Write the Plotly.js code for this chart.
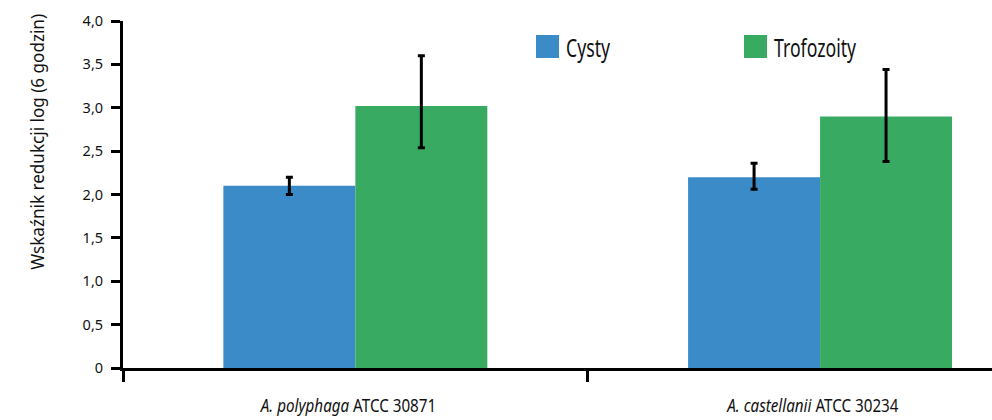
<!DOCTYPE html>
<html>
<head>
<meta charset="utf-8">
<script src="https://cdn.plot.ly/plotly-3.0.1.min.js"></script>
<style>
  html, body { margin: 0; padding: 0; background: #ffffff; }
  #chart { width: 992px; height: 420px; }
</style>
</head>
<body>
<div id="chart"></div>
<script>
// Strains on the x axis
const categories = ["<i>A. polyphaga</i> ATCC 30871", "<i>A. castellanii</i> ATCC 30234"];

// Series names
const seriesNames = ["Cysty", "Trofozoity"];

// Log reduction after 6 hours, with error bar extents
const cysty = [2.10, 2.20];
const cystyErrPlus = [0.10, 0.16];
const cystyErrMinus = [0.10, 0.14];

const trofozoity = [3.02, 2.90];
const trofozoityErrPlus = [0.58, 0.54];
const trofozoityErrMinus = [0.48, 0.52];

// Y axis ticks
const yTickVals = [0, 0.5, 1, 1.5, 2, 2.5, 3, 3.5, 4];
const yTickText = ["0", "0,5", "1,0", "1,5", "2,0", "2,5", "3,0", "3,5", "4,0"];

const yTitle = "Wskaźnik redukcji log (6 godzin)";

const colors = ["#3a8bc8", "#38aa62"];
const FONT = "'Noto Sans', 'Liberation Sans', sans-serif";
const INK = "#111111";

const W = 992, H = 420;
const M = { l: 123, r: 0, t: 21, b: 52 };
const plotW = W - M.l - M.r, plotH = H - M.t - M.b;
const px2x = px => (px - M.l) / plotW;
const px2y = py => (H - M.b - py) / plotH;

function errorBars(plus, minus) {
  return {
    type: "data", symmetric: false, array: plus, arrayminus: minus,
    color: "#000000", thickness: 3, width: 3.5
  };
}

const traces = [
  {
    type: "bar", name: seriesNames[0], x: categories, y: cysty,
    marker: { color: colors[0], line: { width: 0 } },
    error_y: errorBars(cystyErrPlus, cystyErrMinus),
    hoverinfo: "skip"
  },
  {
    type: "bar", name: seriesNames[1], x: categories, y: trofozoity,
    marker: { color: colors[1], line: { width: 0 } },
    error_y: errorBars(trofozoityErrPlus, trofozoityErrMinus),
    hoverinfo: "skip"
  }
];

// Per-annotation horizontal condensing (narrow lettering), with its pivot
const squeeze = [];

// Legend: colour swatches with labels above the bars
const legendLeft = [536, 744];
const swatch = 23, swatchTop = 35;
const shapes = seriesNames.map((n, i) => ({
  type: "rect", xref: "paper", yref: "paper",
  x0: px2x(legendLeft[i]), x1: px2x(legendLeft[i] + swatch),
  y0: px2y(swatchTop + swatch), y1: px2y(swatchTop),
  fillcolor: colors[i], line: { width: 0 }
}));
const annotations = [];
seriesNames.forEach((n, i) => {
  annotations.push({
    xref: "paper", yref: "paper",
    x: px2x(legendLeft[i] + swatch + 5), y: px2y(47),
    xanchor: "left", yanchor: "middle", showarrow: false,
    text: n, font: { family: FONT, size: 26, color: INK }
  });
  squeeze.push({ s: 0.68, pivot: "left" });
});

// Strain labels under each bar group
categories.forEach(c => {
  annotations.push({
    xref: "x", yref: "paper",
    x: c, y: px2y(405), xshift: -8,
    xanchor: "center", yanchor: "middle", showarrow: false,
    text: c, font: { family: FONT, size: 19, color: INK }
  });
  squeeze.push({ s: 0.8, pivot: "center" });
});

// Y axis title
annotations.push({
  xref: "paper", yref: "paper",
  x: px2x(37), y: px2y(142),
  xanchor: "center", yanchor: "middle", showarrow: false, textangle: -90,
  text: yTitle, font: { family: FONT, size: 19, color: INK }
});
squeeze.push({ s: 0.9, pivot: "center" });

const layout = {
  width: W, height: H,
  margin: M,
  paper_bgcolor: "#ffffff", plot_bgcolor: "#ffffff",
  font: { family: FONT, color: INK },
  showlegend: false,
  barmode: "group",
  bargap: 0.432,
  bargroupgap: 0,
  xaxis: {
    type: "category",
    range: [-0.5, 1.37],
    showline: true, linecolor: "#000000", linewidth: 3,
    ticks: "outside", tickson: "boundaries", ticklen: 11, tickwidth: 3, tickcolor: "#000000",
    showticklabels: false,
    showgrid: false, zeroline: false, fixedrange: true
  },
  yaxis: {
    range: [0, 4],
    tickvals: yTickVals, ticktext: yTickText,
    showline: true, linecolor: "#000000", linewidth: 3,
    ticks: "outside", ticklen: 9, tickwidth: 3, tickcolor: "#000000",
    ticklabelstandoff: 5,
    tickfont: { family: FONT, size: 14.5, color: INK },
    showgrid: false, zeroline: false, fixedrange: true
  },
  shapes: shapes,
  annotations: annotations
};

// Narrow a text element horizontally about a pivot on its own baseline direction
function condense(t, s, pivot) {
  const b = t.getBBox();
  const px = pivot === "left" ? b.x : pivot === "right" ? b.x + b.width : b.x + b.width / 2;
  const py = b.y + b.height / 2;
  const prev = t.getAttribute("transform") || "";
  t.setAttribute("transform",
    prev + " translate(" + px + " " + py + ") scale(" + s + " 1) translate(" + (-px) + " " + (-py) + ")");
}

Plotly.newPlot("chart", traces, layout, { displayModeBar: false, staticPlot: true }).then(gd => {
  gd.querySelectorAll("g.annotation").forEach(g => {
    const i = +g.getAttribute("data-index");
    const t = g.querySelector("text.annotation-text");
    if (t && squeeze[i]) condense(t, squeeze[i].s, squeeze[i].pivot);
  });
});
</script>
</body>
</html>
